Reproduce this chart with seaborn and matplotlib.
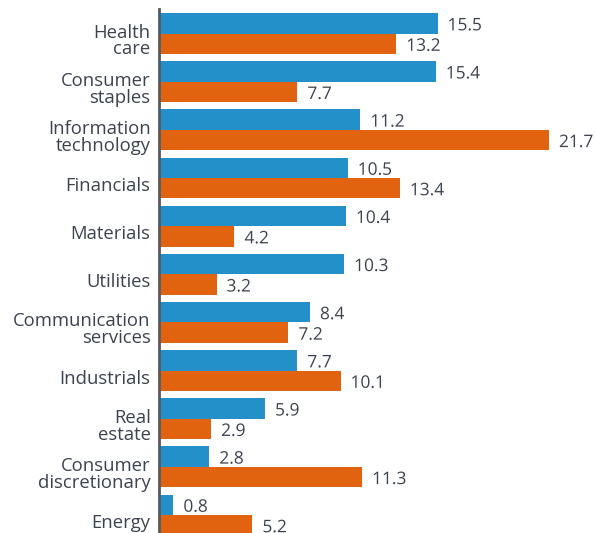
import matplotlib
matplotlib.use("Agg")
import matplotlib.pyplot as plt
import matplotlib.transforms as mtransforms
import matplotlib.patheffects as pe
import seaborn as sns
import pandas as pd

categories = ["Health\ncare", "Consumer\nstaples", "Information\ntechnology", "Financials",
              "Materials", "Utilities", "Communication\nservices", "Industrials",
              "Real\nestate", "Consumer\ndiscretionary", "Energy"]
series_names = ["Series 1", "Series 2"]
series1 = [15.5, 15.4, 11.2, 10.5, 10.4, 10.3, 8.4, 7.7, 5.9, 2.8, 0.8]
series2 = [13.2, 7.7, 21.7, 13.4, 4.2, 3.2, 7.2, 10.1, 2.9, 11.3, 5.2]
colors = ["#2490c9", "#e1620f"]

rows = []
for c, a, b in zip(categories, series1, series2):
    rows.append({"sector": c, "series": series_names[0], "value": a})
    rows.append({"sector": c, "series": series_names[1], "value": b})
df = pd.DataFrame(rows)

sns.set_style("white")
plt.rcParams["font.family"] = ["Open Sans", "DejaVu Sans"]
text_color = "#3c4350"

fig = plt.figure(figsize=(5.95, 5.33), dpi=100)
ax = fig.add_axes([159 / 595, 0, 1 - 159 / 595, 1 - 9.5 / 533])

sns.barplot(data=df, y="sector", x="value", hue="series", orient="h",
            palette=colors, width=0.85, ax=ax, legend=False, saturation=1,
            order=categories, hue_order=series_names, linewidth=0)

ax.set_xlim(0, 24.26)
ax.set_ylim(10.374, -0.5)
ax.set_xlabel("")
ax.set_ylabel("")
ax.set_xticks([])
for s in ["top", "right", "bottom"]:
    ax.spines[s].set_visible(False)
ax.spines["left"].set_color("#555a60")
ax.spines["left"].set_linewidth(2)
ax.tick_params(axis="y", length=0, pad=6, labelsize=13.3, labelcolor=text_color)
offset = mtransforms.ScaledTranslation(0, -6 / 100, fig.dpi_scale_trans)
for lab in ax.get_yticklabels():
    lab.set_linespacing(0.92)
    lab.set_transform(lab.get_transform() + offset)

for container in ax.containers:
    for bar in container:
        w = bar.get_width()
        y = bar.get_y() + bar.get_height() / 2
        ax.annotate(f"{w:.1f}", xy=(w, y), xytext=(10, -3), textcoords="offset pixels",
                    ha="left", va="center", fontsize=12.5, color=text_color,
                    path_effects=[pe.withStroke(linewidth=3, foreground="white")],
                    annotation_clip=False)

fig.savefig("out.png", dpi=100)
